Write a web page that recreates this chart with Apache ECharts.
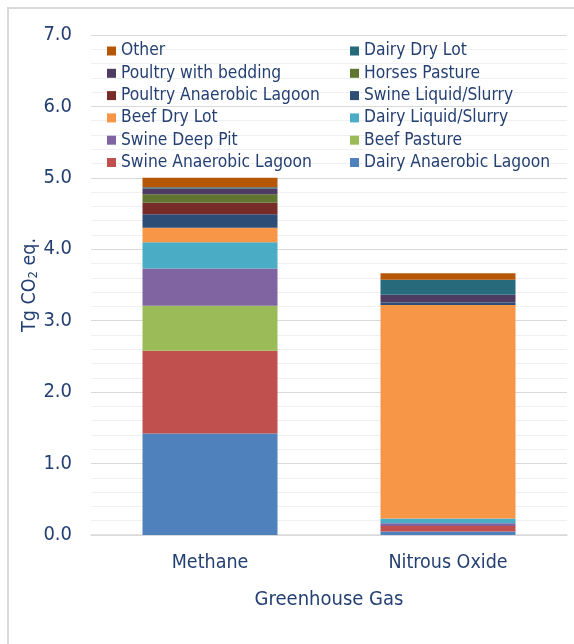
<!DOCTYPE html>
<html>
<head>
<meta charset="utf-8">
<script src="https://cdn.jsdelivr.net/npm/echarts@6/dist/echarts.min.js"></script>
<style>
  html, body { margin: 0; padding: 0; background: #ffffff; }
  #chart { width: 574px; height: 644px; }
</style>
</head>
<body>
<div id="chart"></div>
<script>
// ---- Data ----
const categories = ['Methane', 'Nitrous Oxide'];
const seriesNames = [
  'Dairy Anaerobic Lagoon', 'Swine Anaerobic Lagoon', 'Beef Pasture', 'Swine Deep Pit',
  'Dairy Liquid/Slurry', 'Beef Dry Lot', 'Swine Liquid/Slurry', 'Poultry Anaerobic Lagoon',
  'Horses Pasture', 'Poultry with bedding', 'Dairy Dry Lot', 'Other'
];
const dairyAnaerobicLagoon   = [1.42, 0.05];
const swineAnaerobicLagoon   = [1.16, 0.075];
const beefPasture            = [0.63, 0.0];
const swineDeepPit           = [0.52, 0.04];
const dairyLiquidSlurry      = [0.37, 0.065];
const beefDryLot             = [0.20, 2.99];
const swineLiquidSlurry      = [0.19, 0.034];
const poultryAnaerobicLagoon = [0.16, 0.0];
const horsesPasture          = [0.12, 0.0];
const poultryWithBedding     = [0.08, 0.11];
const dairyDryLot            = [0.02, 0.21];
const other                  = [0.13, 0.09];
const seriesValues = [
  dairyAnaerobicLagoon, swineAnaerobicLagoon, beefPasture, swineDeepPit,
  dairyLiquidSlurry, beefDryLot, swineLiquidSlurry, poultryAnaerobicLagoon,
  horsesPasture, poultryWithBedding, dairyDryLot, other
];
const yTicks = ['0.0', '1.0', '2.0', '3.0', '4.0', '5.0', '6.0', '7.0'];
const legendLeft  = ['Other', 'Poultry with bedding', 'Poultry Anaerobic Lagoon', 'Beef Dry Lot', 'Swine Deep Pit', 'Swine Anaerobic Lagoon'];
const legendRight = ['Dairy Dry Lot', 'Horses Pasture', 'Swine Liquid/Slurry', 'Dairy Liquid/Slurry', 'Beef Pasture', 'Dairy Anaerobic Lagoon'];

// ---- Styles ----
const colors = ['#4F81BD', '#C0504D', '#9BBB59', '#8064A2', '#4BACC6', '#F79646',
                '#2C4D75', '#772C2A', '#5F7530', '#4D3B62', '#276A7C', '#B65708'];
const FONT = "'Liberation Sans Narrow', 'Arial Narrow', 'DejaVu Sans Condensed', sans-serif";
const TXT = '#243f72';

const chart = echarts.init(document.getElementById('chart'), null, { renderer: 'canvas' });

const legendCommon = {
  orient: 'vertical',
  top: 40,
  itemWidth: 9,
  itemHeight: 9,
  itemGap: 0.3,
  icon: 'rect',
  selectedMode: false,
  textStyle: { fontFamily: FONT, fontSize: 17.3, color: TXT, lineHeight: 22 },
  padding: 0
};

chart.setOption({
  animation: false,
  color: colors,
  graphic: [{
    type: 'rect',
    shape: { x: 8, y: 8, width: 600, height: 700 },
    style: { fill: 'none', stroke: '#d9d9d9', lineWidth: 2 },
    silent: true
  }],
  legend: [
    Object.assign({}, legendCommon, { left: 107, data: legendLeft }),
    Object.assign({}, legendCommon, { left: 350, data: legendRight })
  ],
  grid: { left: 91, right: 7, top: 35, bottom: 109, containLabel: false },
  xAxis: {
    type: 'category',
    data: categories,
    name: 'Greenhouse Gas',
    nameLocation: 'middle',
    nameGap: 55,
    nameMoveOverlap: false,
    nameTextStyle: { fontFamily: FONT, fontSize: 20, color: TXT },
    axisLine: { lineStyle: { color: '#d9d9d9', width: 1.5 } },
    axisTick: { show: false },
    axisLabel: { fontFamily: FONT, fontSize: 19.5, color: TXT, margin: 18 }
  },
  yAxis: {
    type: 'value',
    min: 0, max: 7, interval: 1,
    name: 'Tg CO{sub|2} eq.',
    nameLocation: 'middle',
    nameGap: 51,
    nameMoveOverlap: false,
    nameRotate: 90,
    nameTextStyle: {
      fontFamily: FONT, fontSize: 19.5, color: TXT,
      rich: { sub: { fontFamily: FONT, fontSize: 13, color: TXT, verticalAlign: 'bottom', padding: [7, 0, 0, 0] } }
    },
    axisLine: { show: false },
    axisTick: { show: false },
    axisLabel: {
      fontFamily: FONT, fontSize: 20, color: TXT, margin: 19,
      formatter: function (v) { return yTicks[Math.round(v)]; }
    },
    splitLine: { lineStyle: { color: '#d9d9d9', width: 1 } },
    minorTick: { show: false, splitNumber: 5 },
    minorSplitLine: { show: true, lineStyle: { color: '#f0f0f0', width: 1 } }
  },
  series: seriesNames.map(function (name, i) {
    return {
      name: name,
      type: 'bar',
      stack: 'total',
      barWidth: 135,
      data: seriesValues[i],
      itemStyle: { color: colors[i] }
    };
  })
});
</script>
</body>
</html>
